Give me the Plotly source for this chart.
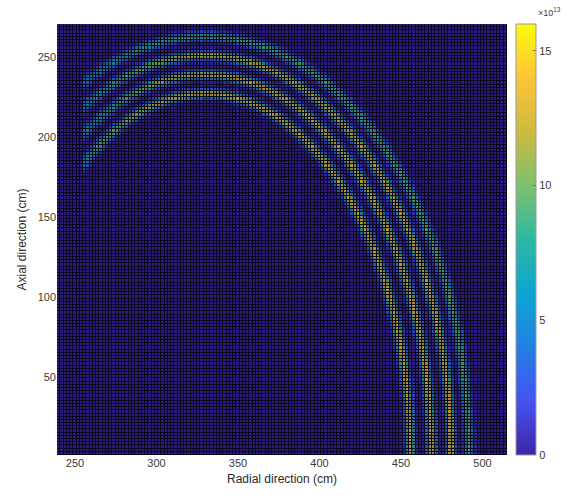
import numpy as np
import plotly.graph_objects as go

# Four elliptical source shells (quarter ellipses centred on the mid-plane)
arc_center_x = 330.0                     # cm, radial position of the ellipse centre
arc_semi_radial = [126.0, 139.0, 151.0, 162.0]   # cm, semi-axis along radial direction
arc_semi_axial = [227.0, 239.0, 251.0, 263.0]    # cm, semi-axis along axial direction
arc_start_x = 255.0                      # cm, shells are cut off on the inner side here
shell_sigma = 1.8                        # cm, half-width of each shell

# Peak flux (x1e13) along each shell vs. elliptical angle (deg, 0 = mid-plane)
angle_knots = [0, 30, 60, 90, 105, 120, 127]
peak_flux = [
    [14.5, 14.8, 14.5, 14.0, 13.0, 10.0, 7.0],
    [14.3, 14.6, 14.2, 13.6, 11.5, 7.0, 6.0],
    [14.2, 14.4, 14.0, 13.4, 11.0, 6.5, 6.0],
    [10.0, 10.2, 9.8, 9.2, 8.2, 5.0, 5.0],
]

# Mesh (2 cm cells)
radial = np.arange(240.0, 515.0, 2.0)
axial = np.arange(2.0, 271.0, 2.0)

x_ticks = [250, 300, 350, 400, 450, 500]
y_ticks = [50, 100, 150, 200, 250]
cbar_ticks = [0, 5e13, 10e13, 15e13]
cbar_labels = ["0", "5", "10", "15"]

X, Y = np.meshgrid(radial, axial)
flux = np.zeros_like(X)
for a, b, peaks in zip(arc_semi_radial, arc_semi_axial, peak_flux):
    u = X - arc_center_x
    F = (u / a) ** 2 + (Y / b) ** 2 - 1.0
    grad = np.hypot(2 * u / a ** 2, 2 * Y / b ** 2)
    dist = F / np.maximum(grad, 1e-9)
    phi = np.degrees(np.arctan2(Y / b, u / a))
    peak = np.interp(phi, angle_knots, peaks) * 1e13
    flux += peak * np.exp(-0.5 * (dist / shell_sigma) ** 2)
flux[X < arc_start_x] = 0.0

parula = [
    [0.000, "rgb(62,38,168)"],
    [0.125, "rgb(70,82,242)"],
    [0.250, "rgb(35,128,228)"],
    [0.375, "rgb(12,165,210)"],
    [0.500, "rgb(45,184,163)"],
    [0.625, "rgb(125,192,110)"],
    [0.750, "rgb(205,186,65)"],
    [0.875, "rgb(254,196,55)"],
    [1.000, "rgb(249,251,14)"],
]

fig = go.Figure(go.Heatmap(
    x=radial, y=axial, z=flux,
    colorscale=parula, zmin=0, zmax=1.6e14,
    xgap=1, ygap=1, opacity=0.72,
    colorbar=dict(
        x=(516 - 57) / 450, xanchor="left", xpad=0,
        y=0.5, yanchor="middle", len=1.0, lenmode="fraction", ypad=0,
        thickness=20, outlinewidth=1, outlinecolor="#9a9a9a",
        tickvals=cbar_ticks, ticktext=cbar_labels,
        ticks="inside", ticklen=3, tickcolor="#777777",
        tickfont=dict(family="Liberation Sans, Arial", size=11, color="#3a3a3a"),
    ),
))

axis_font = dict(family="Liberation Sans, Arial", size=11, color="#3a3a3a")
title_font = dict(family="Liberation Sans, Arial", size=12, color="#2a2a2a")

fig.update_layout(
    width=577, height=498,
    margin=dict(l=57, r=70, t=24, b=43),
    paper_bgcolor="white",
    plot_bgcolor="#06051a",
    xaxis=dict(
        range=[239, 515], tickvals=x_ticks, showgrid=False, zeroline=False,
        ticks="", tickfont=axis_font, automargin=False,
        title=dict(text="Radial direction (cm)", font=title_font, standoff=6),
    ),
    yaxis=dict(
        range=[1, 271], tickvals=y_ticks, showgrid=False, zeroline=False,
        ticks="", tickfont=axis_font, automargin=False,
        title=dict(text="Axial direction (cm)", font=title_font, standoff=8),
    ),
    annotations=[dict(
        text="×10<sup>13</sup>", xref="paper", yref="paper",
        x=(536 - 57) / 450, y=1 + (24 - 12) / 431,
        xanchor="left", yanchor="middle", showarrow=False,
        font=dict(family="Liberation Sans, Arial", size=9, color="#3a3a3a"),
    )],
)

fig.write_html("out.html")
